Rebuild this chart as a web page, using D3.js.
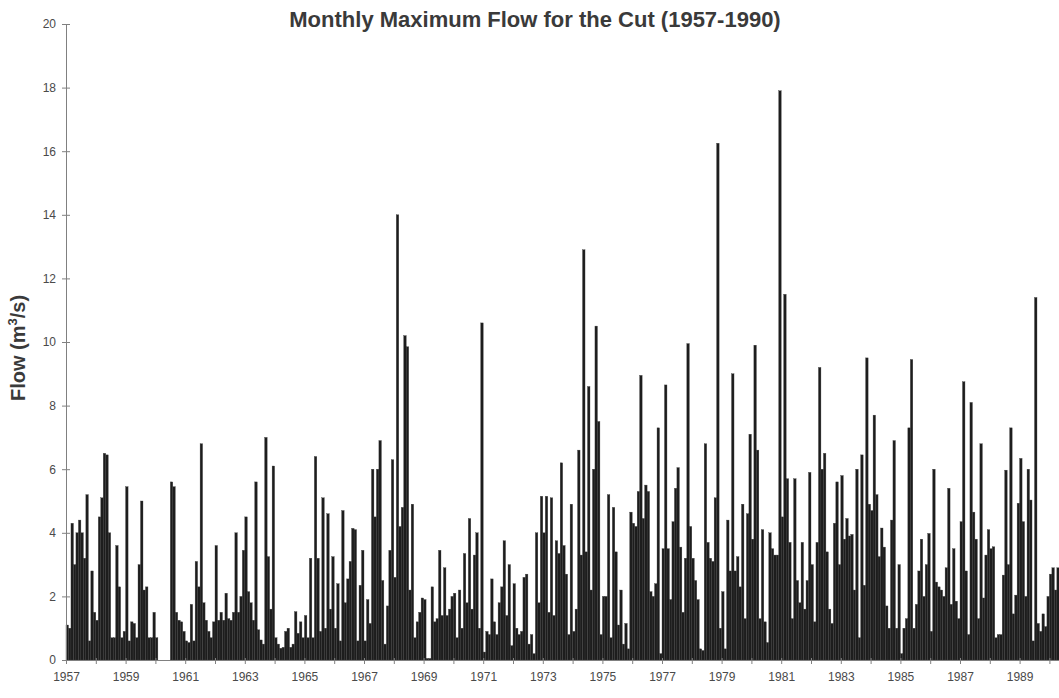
<!DOCTYPE html>
<html>
<head>
<meta charset="utf-8">
<script src="https://cdn.jsdelivr.net/npm/d3@7"></script>
<style>
  html, body { margin: 0; padding: 0; background: #fff; overflow: hidden; }
  svg { display: block; }
</style>
</head>
<body>
<svg id="chart" width="1059" height="698"></svg>
<script>
// Monthly maximum flow (m3/s), one array per year (Jan..Dec)
const flow1957 = [1.1, 1.0, 4.3, 3.0, 4.0, 4.4, 4.0, 3.2, 5.2, 0.6, 2.8, 1.5];
const flow1958 = [1.25, 4.5, 5.1, 6.5, 6.45, 4.0, 0.7, 0.7, 3.6, 2.3, 0.7, 0.9];
const flow1959 = [5.45, 0.6, 1.2, 1.15, 0.7, 3.0, 5.0, 2.2, 2.3, 0.7, 0.7, 1.5];
const flow1960 = [0.7, 0, 0, 0, 0, 0, 5.6, 5.45, 1.5, 1.25, 1.2, 0.9];
const flow1961 = [0.6, 0.55, 1.75, 0.6, 3.1, 2.3, 6.8, 1.8, 1.25, 0.9, 0.7, 1.2];
const flow1962 = [3.6, 1.25, 1.5, 1.25, 2.1, 1.3, 1.25, 1.5, 4.0, 1.5, 2.0, 3.45];
const flow1963 = [4.5, 2.15, 1.8, 1.25, 5.6, 0.95, 0.63, 0.5, 7.0, 3.25, 1.6, 6.1];
const flow1964 = [0.7, 0.5, 0.37, 0.4, 0.9, 1.0, 0.4, 0.5, 1.52, 0.84, 1.2, 0.7];
const flow1965 = [1.4, 0.7, 3.2, 0.7, 6.4, 3.2, 0.9, 5.1, 1.0, 4.6, 1.6, 3.25];
const flow1966 = [1.0, 2.4, 0.6, 4.7, 1.8, 2.55, 3.1, 4.14, 4.1, 0.6, 2.35, 3.45];
const flow1967 = [0.6, 1.9, 1.15, 6.0, 4.5, 6.0, 6.9, 2.5, 0.5, 1.7, 3.45, 6.3];
const flow1968 = [2.6, 14.0, 4.2, 4.8, 10.2, 9.85, 2.2, 4.9, 0.7, 1.2, 1.5, 1.95];
const flow1969 = [1.9, 0.05, 0.05, 2.3, 1.2, 1.3, 3.45, 1.4, 2.9, 1.4, 1.6, 2.0];
const flow1970 = [2.1, 0.7, 2.2, 1.0, 3.35, 1.8, 4.45, 1.6, 3.3, 4.0, 1.0, 10.6];
const flow1971 = [0.25, 0.9, 0.8, 2.55, 1.2, 0.8, 1.8, 2.3, 3.75, 1.4, 3.0, 0.45];
const flow1972 = [2.4, 1.0, 0.8, 0.9, 2.6, 2.7, 0.5, 0.8, 0.2, 4.0, 1.8, 5.15];
const flow1973 = [4.0, 5.15, 1.5, 5.1, 1.4, 3.75, 3.35, 6.2, 3.6, 2.7, 0.8, 4.9];
const flow1974 = [0.9, 1.6, 6.6, 3.3, 12.9, 3.4, 8.6, 2.2, 6.0, 10.5, 7.5, 0.8];
const flow1975 = [2.0, 2.0, 5.2, 0.7, 4.8, 3.4, 1.1, 2.2, 0.5, 1.15, 0.35, 4.65];
const flow1976 = [4.3, 4.2, 5.3, 8.95, 4.45, 5.5, 5.3, 2.15, 2.0, 2.4, 7.3, 0.2];
const flow1977 = [3.5, 8.65, 3.5, 1.9, 4.35, 5.4, 6.05, 3.55, 1.5, 3.2, 9.95, 4.2];
const flow1978 = [3.2, 2.5, 1.9, 0.35, 0.3, 6.8, 3.7, 3.2, 3.1, 5.1, 16.25, 1.0];
const flow1979 = [2.15, 0.35, 4.4, 2.8, 9.0, 2.8, 3.25, 2.3, 4.9, 1.3, 4.6, 7.1];
const flow1980 = [3.8, 9.9, 6.6, 1.3, 4.1, 1.2, 0.55, 4.0, 3.5, 3.3, 3.3, 17.9];
const flow1981 = [4.5, 11.5, 5.7, 3.7, 1.3, 5.7, 2.5, 1.8, 3.7, 1.6, 2.5, 5.9];
const flow1982 = [3.0, 1.2, 3.7, 9.2, 6.0, 6.5, 3.4, 1.6, 1.15, 4.3, 5.6, 3.0];
const flow1983 = [5.8, 3.8, 4.45, 3.9, 3.95, 2.2, 6.0, 0.7, 6.45, 2.35, 9.5, 4.9];
const flow1984 = [4.7, 7.7, 5.2, 3.25, 4.15, 3.55, 1.7, 1.0, 4.4, 6.9, 1.0, 3.0];
const flow1985 = [0.2, 1.0, 1.3, 7.3, 9.45, 1.0, 1.75, 2.8, 3.8, 2.0, 3.0, 3.98];
const flow1986 = [0.9, 6.0, 2.45, 2.3, 2.2, 2.0, 2.9, 5.4, 1.75, 3.5, 1.85, 1.3];
const flow1987 = [4.35, 8.75, 2.8, 0.8, 8.1, 4.65, 3.8, 1.3, 6.8, 1.95, 3.3, 4.1];
const flow1988 = [3.5, 3.56, 0.7, 0.8, 0.8, 2.67, 5.97, 3.0, 7.3, 1.45, 2.04, 4.93];
const flow1989 = [6.34, 4.35, 2.0, 6.0, 5.03, 0.6, 11.4, 1.15, 0.9, 1.45, 1.05, 2.0];
const flow1990 = [2.7, 2.9, 2.2, 2.9];

const years = d3.range(1957, 1991);
const yearlySeries = [flow1957, flow1958, flow1959, flow1960, flow1961, flow1962, flow1963,
  flow1964, flow1965, flow1966, flow1967, flow1968, flow1969, flow1970, flow1971, flow1972,
  flow1973, flow1974, flow1975, flow1976, flow1977, flow1978, flow1979, flow1980, flow1981,
  flow1982, flow1983, flow1984, flow1985, flow1986, flow1987, flow1988, flow1989, flow1990];

const yTicks = [0, 2, 4, 6, 8, 10, 12, 14, 16, 18, 20];
const xLabelYears = d3.range(1957, 1991, 2);
const title = "Monthly Maximum Flow for the Cut (1957-1990)";

// flatten to monthly records
const monthly = [];
yearlySeries.forEach((arr, k) => {
  arr.forEach((v, m) => monthly.push({ t: years[k] + m / 12, v: v }));
});

const svg = d3.select("#chart");
const x = d3.scaleLinear().domain([1957, 1991]).range([66, 66 + 34 * 29.8]);
const y = d3.scaleLinear().domain([0, 20]).range([660, 24]);
const bw = x(1957 + 1 / 12) - x(1957);

// bars
svg.append("g")
  .selectAll("rect")
  .data(monthly)
  .join("rect")
  .attr("x", d => x(d.t))
  .attr("y", d => y(d.v))
  .attr("width", bw)
  .attr("height", d => y(0) - y(d.v))
  .attr("fill", "#1d1d1d")
  .attr("stroke", "#3c3c3c")
  .attr("stroke-width", 0.35);

const axisColor = "#808080";
const labelColor = "#4a4a4a";

// y axis
const yAxis = svg.append("g").attr("transform", "translate(66,0)")
  .call(d3.axisLeft(y).tickValues(yTicks).tickSize(4).tickPadding(6));
yAxis.select(".domain").attr("stroke", axisColor).attr("stroke-width", 1);
yAxis.selectAll(".tick line").attr("stroke", axisColor).attr("x2", 4).attr("x1", -4);
yAxis.selectAll(".tick text").attr("fill", labelColor)
  .style("font-family", "Liberation Sans, Arial, sans-serif").style("font-size", "12px");

// x axis
const xAxis = svg.append("g").attr("transform", "translate(0,660)")
  .call(d3.axisBottom(x).tickValues(years.concat([1991])).tickSize(4).tickPadding(8)
    .tickFormat(d => xLabelYears.includes(d) ? String(d) : ""));
xAxis.select(".domain").attr("stroke", axisColor).attr("stroke-width", 1);
xAxis.selectAll(".tick line").attr("stroke", axisColor).attr("y1", -2).attr("y2", 4);
xAxis.selectAll(".tick text").attr("fill", labelColor)
  .style("font-family", "Liberation Sans, Arial, sans-serif").style("font-size", "12px");

// title
svg.append("text")
  .attr("x", 535).attr("y", 27)
  .attr("text-anchor", "middle")
  .style("font-family", "Liberation Sans, Arial, sans-serif")
  .style("font-size", "22px").style("font-weight", "bold")
  .attr("fill", "#3a3a3a")
  .text(title);

// y label
const yl = svg.append("text")
  .attr("transform", "translate(25,348) rotate(-90)")
  .attr("text-anchor", "middle")
  .style("font-family", "Liberation Sans, Arial, sans-serif")
  .style("font-size", "20px").style("font-weight", "bold")
  .attr("fill", "#3a3a3a");
yl.append("tspan").text("Flow (m");
yl.append("tspan").attr("dy", -8).style("font-size", "13px").text("3");
yl.append("tspan").attr("dy", 8).text("/s)");
</script>
</body>
</html>
